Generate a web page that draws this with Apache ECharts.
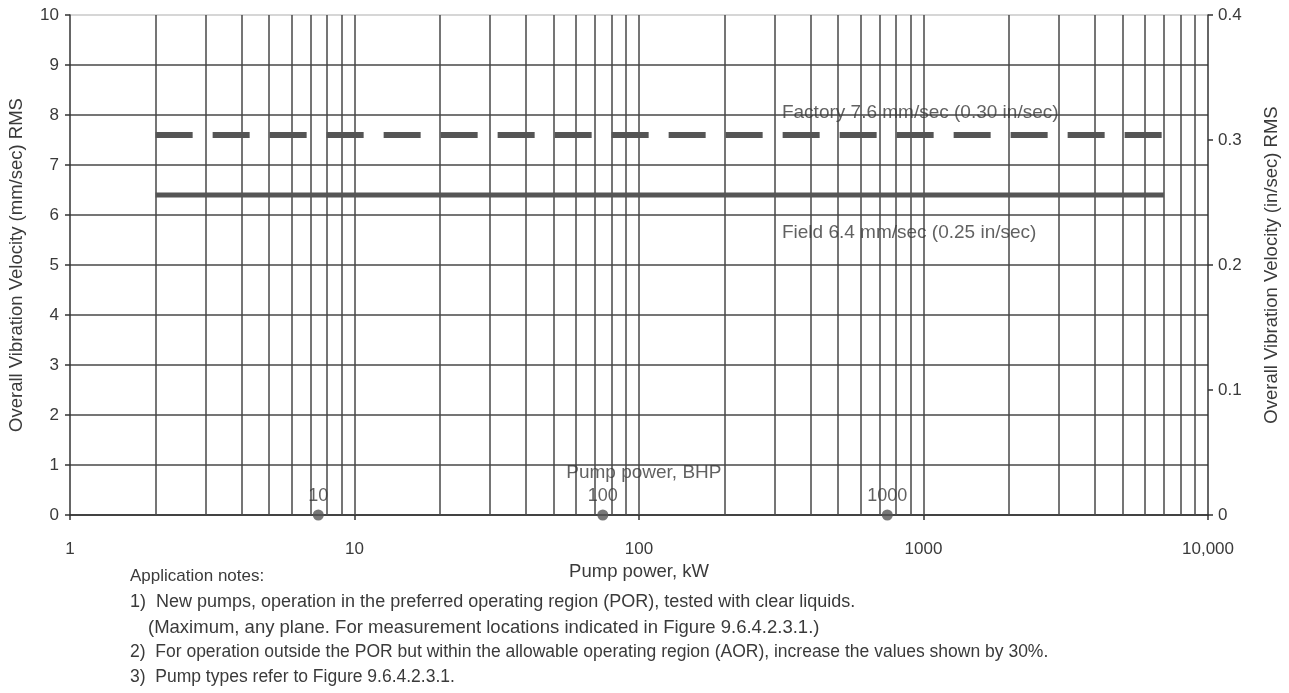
<!DOCTYPE html>
<html>
<head>
<meta charset="utf-8">
<script src="https://cdn.jsdelivr.net/npm/echarts@6/dist/echarts.min.js"></script>
<style>
html,body{margin:0;padding:0;background:#fff;}
#chart{width:1289px;height:693px;}
</style>
</head>
<body>
<div id="chart"></div>
<script>
// ---- data ----
var factoryKw = [2, 7000];
var factoryMm = [7.6, 7.6];
var fieldKw = [2, 7000];
var fieldMm = [6.4, 6.4];
var bhpLabels = ['10', '100', '1000'];
var bhpKw = [7.46, 74.6, 746];
var gridKw = [2,3,4,5,6,7,8,9,10,20,30,40,50,60,70,80,90,100,200,300,400,500,600,700,800,900,1000,2000,3000,4000,5000,6000,7000,8000,9000];
var xTickLabels = {1:'1', 10:'10', 100:'100', 1000:'1000', 10000:'10,000'};
var leftTicks = [0,1,2,3,4,5,6,7,8,9,10];
var rightTicks = [0,0.1,0.2,0.3,0.4];
var notes = [
  'Application notes:',
  '1)  New pumps, operation in the preferred operating region (POR), tested with clear liquids.',
  '(Maximum, any plane. For measurement locations indicated in Figure 9.6.4.2.3.1.)',
  '2)  For operation outside the POR but within the allowable operating region (AOR), increase the values shown by 30%.',
  '3)  Pump types refer to Figure 9.6.4.2.3.1.'
];

var FONT = '"Liberation Sans", Arial, sans-serif';
var TXT = '#3a3a3a';
var LINE = '#555555';
var GRID = '#474747';

function pairs(xs, ys){ return xs.map(function(x,i){ return [x, ys[i]]; }); }

var chart = echarts.init(document.getElementById('chart'), null, {renderer:'canvas'});

var hColors = leftTicks.map(function(v, i){ return i === leftTicks.length - 1 ? '#c8c8c8' : GRID; });

var noteY = [579, 604, 629, 654, 679];
var noteX = [130, 130, 148, 130, 130];
var noteSize = [17, 18, 18.5, 17.5, 17.5];

var option = {
  animation: false,
  backgroundColor: '#fff',
  textStyle: {fontFamily: FONT},
  grid: {left: 70, right: 81, top: 15, bottom: 178, containLabel: false, outerBoundsMode: 'none'},
  xAxis: {
    type: 'log', logBase: 10, min: 1, max: 10000,
    name: 'Pump power, kW', nameLocation: 'middle', nameGap: 40,
    nameTextStyle: {fontSize: 18.5, color: TXT, fontFamily: FONT},
    axisLine: {show: true, lineStyle: {color: '#333', width: 1.5}},
    axisTick: {show: true, length: 5, inside: false, lineStyle: {color: '#333', width: 1.5}},
    axisLabel: {fontSize: 17, color: TXT, margin: 26, fontFamily: FONT,
      formatter: function(v){ return xTickLabels[Math.round(v)] || ''; }},
    splitLine: {show: false},
    minorTick: {show: false}
  },
  yAxis: [{
    type: 'value', min: 0, max: 10, interval: 1, position: 'left',
    name: 'Overall Vibration Velocity (mm/sec) RMS', nameLocation: 'middle', nameGap: 44, nameRotate: 90,
    nameTextStyle: {fontSize: 18.5, color: TXT, fontFamily: FONT},
    axisLine: {show: true, lineStyle: {color: '#333', width: 1.5}},
    axisTick: {show: true, length: 5, lineStyle: {color: '#333', width: 1.5}},
    axisLabel: {fontSize: 17, color: TXT, margin: 11, fontFamily: FONT},
    splitLine: {show: true, lineStyle: {color: hColors, width: 1.5}}
  }, {
    type: 'value', min: 0, max: 0.4, interval: 0.1, position: 'right',
    name: 'Overall Vibration Velocity (in/sec) RMS', nameLocation: 'middle', nameGap: 54, nameRotate: 90,
    nameTextStyle: {fontSize: 18.5, color: TXT, fontFamily: FONT},
    axisLine: {show: true, lineStyle: {color: '#333', width: 1.5}},
    axisTick: {show: true, length: 5, lineStyle: {color: '#333', width: 1.5}},
    axisLabel: {fontSize: 17, color: TXT, margin: 10, fontFamily: FONT,
      formatter: function(v){ return v === 0 ? '0' : v.toFixed(1); }},
    splitLine: {show: false}
  }],
  series: [{
    name: 'grid', type: 'line', data: [], silent: true,
    markLine: {
      silent: true, symbol: ['none','none'], animation: false,
      label: {show: false},
      lineStyle: {color: GRID, width: 1.5, type: 'solid'},
      data: gridKw.map(function(v){ return {xAxis: v}; })
    }
  }, {
    name: 'Factory', type: 'line', data: pairs(factoryKw, factoryMm),
    symbol: 'none', lineStyle: {color: LINE, width: 6, type: [37, 20]}, z: 5
  }, {
    name: 'Field', type: 'line', data: pairs(fieldKw, fieldMm),
    symbol: 'none', lineStyle: {color: LINE, width: 5}, z: 5
  }, {
    name: 'BHP', type: 'scatter', symbol: 'circle', symbolSize: 11,
    itemStyle: {color: LINE},
    data: bhpKw.map(function(k, i){ return {value: [k, 0], name: bhpLabels[i]}; }),
    label: {show: true, position: 'top', distance: 4, formatter: '{b}',
      fontSize: 18, color: TXT, fontFamily: FONT},
    clip: false, z: 6
  }, {
    name: 'annot', type: 'scatter', symbolSize: 0, silent: true, z: 7,
    data: [
      {value: [318, 8.04], name: 'Factory 7.6 mm/sec (0.30 in/sec)', label: {position: 'right', distance: 0}},
      {value: [318, 5.64], name: 'Field 6.4 mm/sec (0.25 in/sec)', label: {position: 'right', distance: 0}},
      {value: [104, 0.84], name: 'Pump power, BHP', label: {position: 'inside'}}
    ],
    label: {show: true, formatter: '{b}', fontSize: 19, color: TXT, fontFamily: FONT}
  }],
  graphic: notes.map(function(t, i){
    return {type: 'text', left: noteX[i], top: noteY[i] - 11,
      style: {text: t, fontSize: noteSize[i], fill: TXT, fontFamily: FONT}};
  })
};
chart.setOption(option);
</script>
</body>
</html>
